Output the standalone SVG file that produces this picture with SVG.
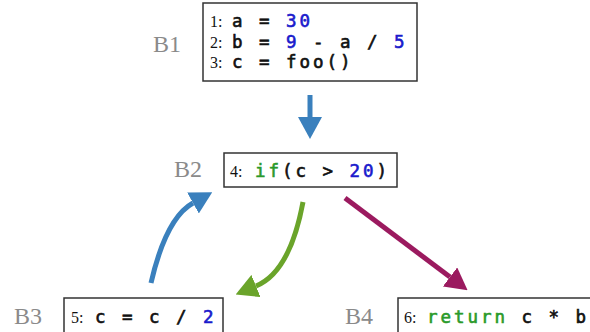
<svg xmlns="http://www.w3.org/2000/svg" width="590" height="332" viewBox="0 0 590 332">
<style>
.box{fill:#fff;stroke:#333;stroke-width:1.5}
.lbl{font-family:"Liberation Serif",serif;font-size:24px;fill:#8a8a8a}
.ln{font-family:"Liberation Serif",serif;font-size:16px;fill:#111}
.code{font-family:"DejaVu Sans Mono",monospace;font-size:17.5px;letter-spacing:2.96px;fill:#111;stroke:#111;stroke-width:0.6}
.num{fill:#1a1acc;stroke:#1a1acc}
.kw{fill:#2a9a2a;stroke:#2a9a2a}
.edge{fill:none;stroke-width:5}
</style>
<defs>
<marker id="hb" viewBox="0 -12 22 24" markerWidth="22" markerHeight="24" markerUnits="userSpaceOnUse" refX="0" refY="0" orient="auto"><path d="M0,-12 L22,0 L0,12 z" fill="#3a80bd"/></marker>
<marker id="hg" viewBox="0 -12 22 24" markerWidth="22" markerHeight="24" markerUnits="userSpaceOnUse" refX="0" refY="0" orient="auto"><path d="M0,-12 L22,0 L0,12 z" fill="#6aa42a"/></marker>
<marker id="hm" viewBox="0 -12 22 24" markerWidth="22" markerHeight="24" markerUnits="userSpaceOnUse" refX="0" refY="0" orient="auto"><path d="M0,-12 L22,0 L0,12 z" fill="#9b1a5f"/></marker>
</defs>
<g id="connectors">
<path class="edge" stroke="#3a80bd" d="M310,95 L310,117" marker-end="url(#hb)"/>
<path class="edge" stroke="#3a80bd" d="M151,283 Q166,218 193,203" marker-end="url(#hb)"/>
<path class="edge" stroke="#6aa42a" d="M303,202 Q290,272 256,286" marker-end="url(#hg)"/>
<path class="edge" stroke="#9b1a5f" d="M345,198 L450,277" marker-end="url(#hm)"/>
</g>
<g id="B1">
<text class="lbl" x="153" y="52">B1</text>
<rect class="box" x="203" y="3" width="214" height="78"/>
<text class="ln" x="210" y="27">1:</text>
<text class="code" x="232" y="27">a = <tspan class="num">30</tspan></text>
<text class="ln" x="210" y="47.5">2:</text>
<text class="code" x="232" y="47.5">b = <tspan class="num">9</tspan> - a / <tspan class="num">5</tspan></text>
<text class="ln" x="210" y="68">3:</text>
<text class="code" x="232" y="68">c = foo()</text>
</g>
<g id="B2">
<text class="lbl" x="174" y="177">B2</text>
<rect class="box" x="224" y="153" width="173" height="34"/>
<text class="ln" x="230" y="177">4:</text>
<text class="code" x="255" y="177"><tspan class="kw">if</tspan>(c &gt; <tspan class="num">20</tspan>)</text>
</g>
<g id="B3">
<text class="lbl" x="14" y="324">B3</text>
<rect class="box" x="64" y="298" width="159" height="50"/>
<text class="ln" x="71" y="323">5:</text>
<text class="code" x="95" y="323">c = c / <tspan class="num">2</tspan></text>
</g>
<g id="B4">
<text class="lbl" x="345" y="324">B4</text>
<rect class="box" x="398" y="298" width="210" height="50"/>
<text class="ln" x="404" y="323">6:</text>
<text class="code" x="427" y="323"><tspan class="kw">return</tspan> c * b</text>
</g>
</svg>
